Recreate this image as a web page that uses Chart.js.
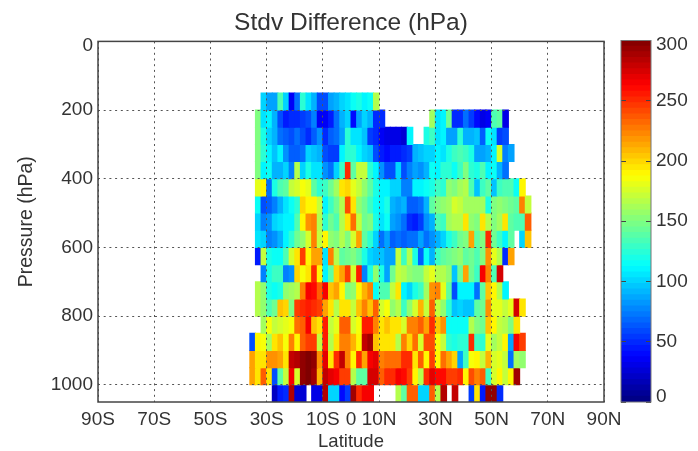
<!DOCTYPE html>
<html>
<head>
<meta charset="utf-8">
<script src="https://cdn.jsdelivr.net/npm/chart.js@4"></script>
<style>
  html, body { margin: 0; padding: 0; background: #fff; }
  canvas { position: absolute; top: 0; filter: blur(0.6px); }
</style>
</head>
<body>
<canvas id="main" width="698" height="451" style="left:0"></canvas>
<canvas id="bar" width="88" height="451" style="left:610px"></canvas>
<script>
// cell centres, 2 degree bins
const latitudes = [-35,-33,-31,-29,-27,-25,-23,-21,-19,-17,-15,-13,-11,-9,-7,-5,-3,-1,1,3,5,7,9,11,13,15,17,19,21,23,25,27,29,31,33,35,37,39,41,43,45,47,49,51,53,55,57,59,61,63];
const latTicks = [-90,-70,-50,-30,-10,0,10,30,50,70,90];
const latLabels = ['90S','70S','50S','30S','10S','0','10N','30N','50N','70N','90N'];
const pressureTicks = [0,200,400,600,800,1000];
const colorbarTicks = [0,50,100,150,200,250,300];
const _ = null;

// values per pressure layer, west to east
const p150 = [_,_,100,85,85,135,100,35,70,125,105,90,60,60,85,90,100,105,115,120,110,115,165];
const p200 = [_,150,105,110,90,60,45,50,50,55,60,75,35,35,45,70,90,100,40,85,100,90,50,50,_,_,_,_,_,_,_,_,160,105,110,145,50,50,70,55,40,30,35,135,140,30];
const p250 = [_,150,120,100,90,70,65,60,70,60,50,65,80,50,65,70,85,125,105,105,95,55,50,35,30,30,30,25,110,_,_,120,130,105,110,85,85,125,90,90,95,65,115,105,55,60];
const p300 = [_,150,125,110,95,110,80,65,65,70,100,95,90,60,55,55,110,125,125,110,100,95,60,45,40,45,45,50,55,90,95,100,100,110,105,120,130,135,130,120,85,85,90,110,175,75,85];
const p350 = [_,150,110,115,90,90,100,75,165,100,120,105,105,80,70,100,130,250,140,170,170,125,110,80,60,60,100,60,75,85,80,90,115,110,125,125,115,130,150,125,120,135,110,115,90,70];
const p400 = [_,180,190,70,120,135,140,170,175,185,180,140,125,130,145,160,195,200,180,170,155,140,120,110,110,100,100,75,75,110,110,115,120,130,125,155,150,160,165,135,95,130,140,95,130,135,135,115,190];
const p450 = [_,115,60,65,75,90,105,115,125,200,190,190,170,110,130,145,165,240,195,155,145,130,115,110,120,90,85,90,65,65,70,90,140,150,155,160,175,170,160,160,160,160,120,150,155,150,145,140,225,170];
const p500 = [_,100,75,80,100,105,110,110,135,190,220,225,165,125,145,135,165,195,230,170,145,150,120,105,115,85,80,70,50,45,55,80,90,135,130,160,165,165,195,155,150,195,165,150,160,195,140,135,135,235];
const p550 = [_,105,100,75,80,90,110,125,145,155,175,225,170,190,155,150,165,150,175,215,140,125,100,70,85,65,70,65,70,70,85,70,80,90,100,120,130,145,150,215,140,150,250,145,130,110,140,_,100,205];
const p600 = [_,45,170,120,115,115,135,175,195,245,190,215,215,105,225,165,140,145,150,140,120,100,95,95,85,85,170,130,165,120,65,115,90,130,140,145,150,155,140,145,135,150,220,180,165,50,215];
const p650 = [_,_,75,120,130,130,75,80,200,185,195,250,190,110,140,200,215,245,175,255,75,120,155,120,85,145,170,165,155,150,150,170,180,165,165,155,95,145,215,145,130,265,225,135,275];
const p700 = [_,165,155,120,115,120,155,160,165,225,265,260,235,265,205,215,190,150,155,190,210,225,115,135,135,170,195,110,100,120,130,160,220,225,180,140,60,110,110,110,70,140,205,190,165,110];
const p750 = [_,165,155,135,145,205,200,150,245,250,255,250,245,215,195,165,195,195,170,205,225,205,235,175,185,155,165,130,155,175,210,170,235,170,155,125,95,100,95,95,140,145,220,180,180,170,180,275,195];
const p800 = [_,_,160,185,170,175,180,185,230,235,265,205,195,255,170,180,235,235,175,185,255,255,225,195,205,195,195,175,225,225,235,215,250,205,220,115,115,115,115,165,150,145,205,190,170,165,150,195];
const p850 = [60,190,185,160,195,205,185,225,190,235,245,245,170,255,165,195,225,225,210,190,280,290,205,195,195,195,165,225,200,230,175,240,240,185,170,125,120,125,125,250,130,125,180,160,170,190,85,265,245];
const p900 = [215,195,195,220,220,215,195,280,285,295,300,295,220,270,195,250,280,225,190,250,215,265,270,225,230,230,230,250,250,195,235,190,245,190,230,215,200,85,130,185,190,170,210,175,180,170,70,160,155];
const p950 = [215,195,235,195,60,140,170,265,175,295,300,290,210,280,270,265,245,245,165,140,140,275,275,235,250,250,265,260,245,190,165,250,270,260,260,245,245,250,190,240,225,235,130,175,190,170,190,290];
const p1000 = [_,_,_,_,20,45,50,285,25,25,_,30,30,285,100,100,40,55,290,250,265,265,_,_,_,_,165,140,235,235,100,100,235,165,285,_,280,_,_,55,195,45,295,295,50];

const layers = [[150,p150],[200,p200],[250,p250],[300,p300],[350,p350],[400,p400],[450,p450],[500,p500],[550,p550],[600,p600],[650,p650],[700,p700],[750,p750],[800,p800],[850,p850],[900,p900],[950,p950],[1000,p1000]];

// matlab jet, v in 0..300
function jet(v) {
  const t = Math.min(Math.max(v / 300, 0), 1);
  const ch = x => Math.round(255 * Math.min(Math.max(1.5 - Math.abs(4 * t - x), 0), 1));
  return `rgb(${ch(3)},${ch(2)},${ch(1)})`;
}

const font = { family: '"Liberation Sans", Arial, sans-serif', size: 19 };
const textColor = '#333';
const gridColor = '#555';

const frame = {
  id: 'frame',
  afterDraw(chart) {
    const { ctx, chartArea: a } = chart;
    ctx.save();
    ctx.strokeStyle = chart.canvas.id == 'main' ? '#444' : '#777';
    ctx.lineWidth = chart.canvas.id == 'main' ? 1.5 : 1;
    ctx.strokeRect(a.left, a.top, a.right - a.left, a.bottom - a.top);
    ctx.restore();
  }
};

new Chart(document.getElementById('main'), {
  type: 'bar',
  data: {
    datasets: layers.map(([p, vals]) => ({
      label: p + ' hPa',
      data: vals.map((v, i) => v == null ? null : { x: latitudes[i], y: [p, p + 50], v }).filter(d => d),
      backgroundColor: c => jet(c.raw.v),
      grouped: false,
      categoryPercentage: 1,
      barPercentage: 1,
      inflateAmount: 0.5,
      borderWidth: 0
    }))
  },
  options: {
    responsive: false,
    animation: false,
    layout: { padding: { top: 0, right: 94, bottom: 0, left: 0 } },
    plugins: {
      legend: { display: false },
      tooltip: { enabled: false },
      title: {
        display: true,
        fullSize: false,
        text: 'Stdv Difference (hPa)',
        color: textColor,
        font: { family: font.family, size: 24.5, weight: 'normal' },
        padding: { top: 9, bottom: 3 }
      }
    },
    scales: {
      x: {
        type: 'linear',
        min: -90,
        max: 90,
        offset: false,
        afterBuildTicks(scale) { scale.ticks = latTicks.map(value => ({ value })); },
        afterFit(scale) { scale.height = 49; },
        grid: {
          offset: false,
          z: 1,
          color: c => c.tick && c.tick.value === 0 ? 'rgba(0,0,0,0)' : gridColor,
          drawTicks: false
        },
        border: { display: false, dash: [2, 3.7] },
        ticks: {
          autoSkip: false,
          maxRotation: 0,
          color: textColor,
          font,
          padding: 6,
          callback: v => latLabels[latTicks.indexOf(v)]
        },
        title: { display: true, text: 'Latitude', color: textColor, font: { family: font.family, size: 18.5, lineHeight: 1 }, padding: 0 }
      },
      y: {
        reverse: true,
        min: 0,
        max: 1050,
        afterBuildTicks(scale) { scale.ticks = pressureTicks.map(value => ({ value })); },
        afterFit(scale) { scale.width = 98; },
        grid: { z: 1, color: gridColor, drawTicks: false },
        border: { display: false, dash: [2, 3.7] },
        ticks: {
          color: textColor,
          font: c => c.index === 0 ? { ...font, lineHeight: 0.42 } : font,
          padding: 5,
          callback: v => v === 0 ? ['', '0'] : String(v)
        },
        title: { display: true, text: 'Pressure (hPa)', color: textColor, font: { family: font.family, size: 19.5 }, padding: { top: 15, bottom: 0 } }
      }
    }
  },
  plugins: [frame]
});

// colour bar, 64 steps like the jet map
const barSteps = [];
for (let i = 0; i < 64; i++) barSteps.push(i * 300 / 64);

new Chart(document.getElementById('bar'), {
  type: 'bar',
  data: {
    labels: [''],
    datasets: barSteps.map(v => ({
      data: [[v, v + 300 / 64]],
      backgroundColor: jet(v + 150 / 64),
      grouped: false,
      categoryPercentage: 1,
      barPercentage: 1,
      inflateAmount: 0.5,
      borderWidth: 0
    }))
  },
  options: {
    responsive: false,
    animation: false,
    layout: { padding: { top: 40.5, bottom: 49, left: 11, right: 0 } },
    plugins: { legend: { display: false }, tooltip: { enabled: false } },
    scales: {
      x: { display: false },
      y: {
        position: 'right',
        min: 0,
        max: 300,
        afterBuildTicks(scale) { scale.ticks = colorbarTicks.map(value => ({ value })); },
        afterFit(scale) { scale.width = 47; },
        grid: { z: 1, color: '#444', drawTicks: false, drawOnChartArea: true },
        border: { display: false, dash: [5, 20, 5] },
        ticks: {
          color: textColor,
          // end labels sit just inside the bar
          font: c => c.tick && c.tick.value === 0 ? { ...font, lineHeight: 0.6 }
            : c.tick && c.tick.value === 300 ? { ...font, lineHeight: 0.42 } : font,
          padding: 5,
          callback: v => v === 0 ? ['0', ''] : v === 300 ? ['', '300'] : String(v)
        }
      }
    }
  },
  plugins: [frame]
});
</script>
</body>
</html>
